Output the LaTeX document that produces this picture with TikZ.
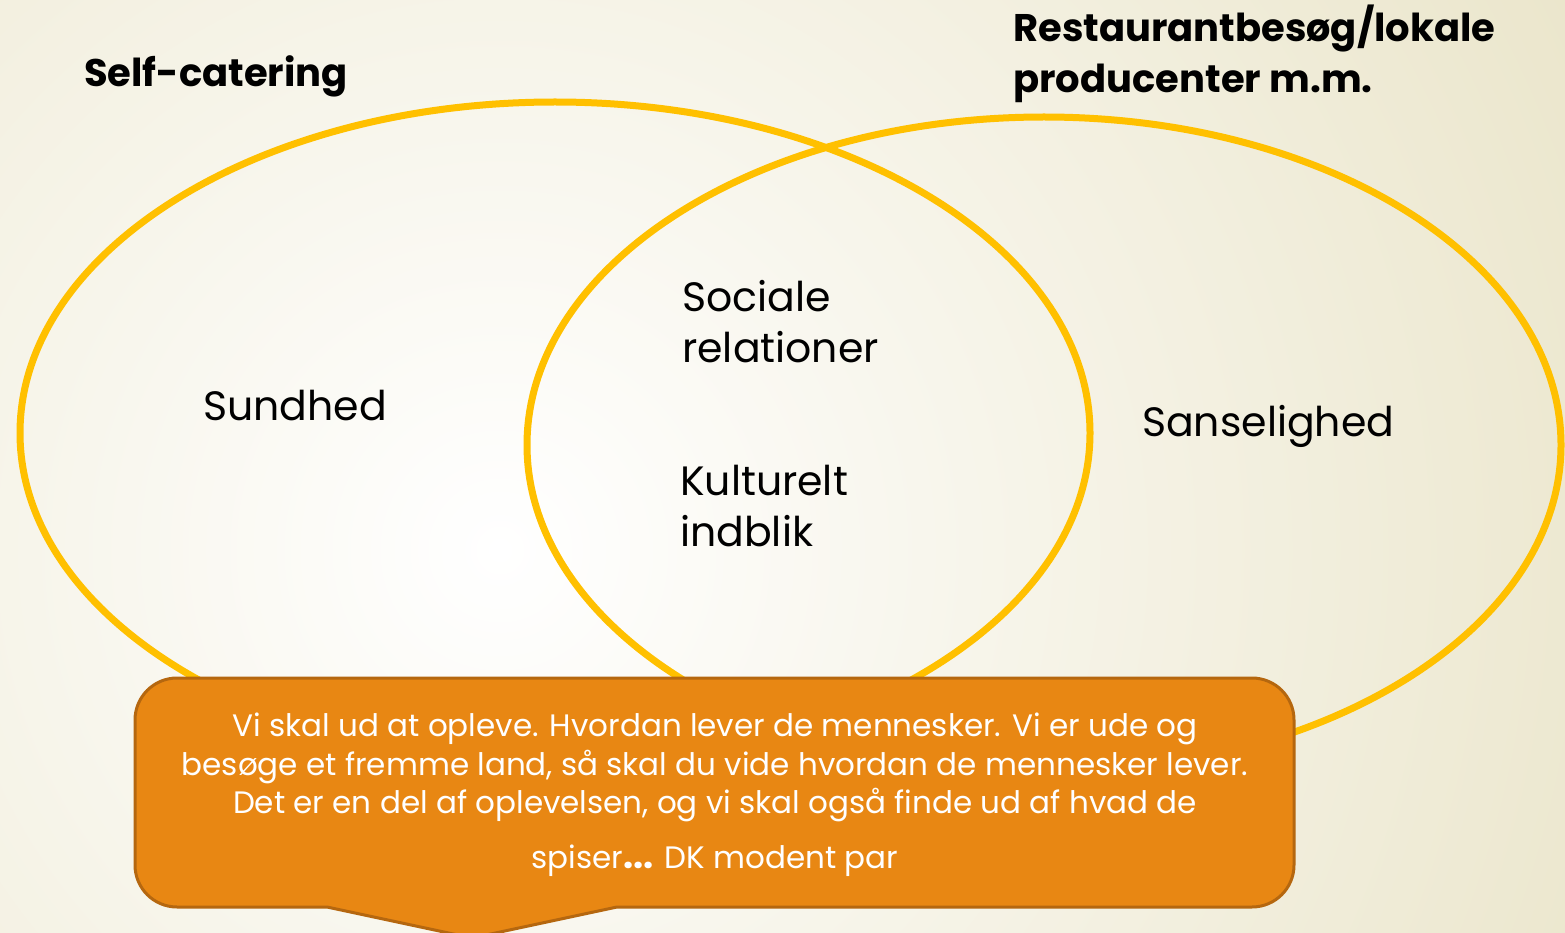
\documentclass[tikz,border=0pt]{standalone}
\usepackage{fontspec}
\setmainfont{Poppins}
\usetikzlibrary{positioning}
\definecolor{gold}{HTML}{FFC000}
\definecolor{callfill}{HTML}{E88713}
\definecolor{callline}{HTML}{B5670F}
\definecolor{bgbeige}{HTML}{EBE6CC}

\begin{document}
\begin{tikzpicture}[x=1pt, y=-1pt,
  ring/.style={draw=gold, line width=7pt},
  head/.style={anchor=base west, align=left, inner sep=0pt, font=\fontsize{38.5}{51}\selectfont\bfseries},
  word/.style={anchor=base west, align=left, inner sep=0pt, font=\fontsize{41}{51}\selectfont},
  callout/.style={fill=callfill, draw=callline, line width=3pt},
  quote/.style={anchor=base, align=center, inner sep=0pt, text=white, font=\fontsize{31}{38.5}\selectfont}]
  \useasboundingbox (0,0) rectangle (1565,933);
  \begin{scope}
    \clip (0,0) rectangle (1565,933);
    \shade[inner color=white, outer color=bgbeige] (-700,-650) rectangle (1700,1750);
  \end{scope}
  \draw[ring] (555,433) ellipse [x radius=535pt, y radius=331pt];
  \draw[ring] (1044,445) ellipse [x radius=517pt, y radius=328pt];
  \node[head] (selfcat) at (84,87) {Self-catering};
  \node[head] (resto) at (1013,93) {Restaurantbesøg/lokale\\producenter m.m.};
  \node[word] (sund) at (203,420) {Sundhed};
  \node[word] (social) at (682,362) {Sociale\\relationer};
  \node[word] (kultur) at (680,546) {Kulturelt\\indblik};
  \node[word] (sanse) at (1142,436) {Sanselighed};
  \draw[callout] (472,938) -- (617,907) [rounded corners=42pt] -- (1294,907) -- (1294,678)
    -- (135,678) -- (135,907) [sharp corners] -- (327,907) -- cycle;
  \node[quote] (citat) at (715,868) {Vi skal ud at opleve. Hvordan lever de mennesker. Vi er ude og\\
    besøge et fremme land, så skal du vide hvordan de mennesker lever.\\
    Det er en del af oplevelsen, og vi skal også finde ud af hvad de\\[16pt]
    spiser\textbf{\fontsize{36}{38}\selectfont...} DK modent par};
\end{tikzpicture}
\end{document}
